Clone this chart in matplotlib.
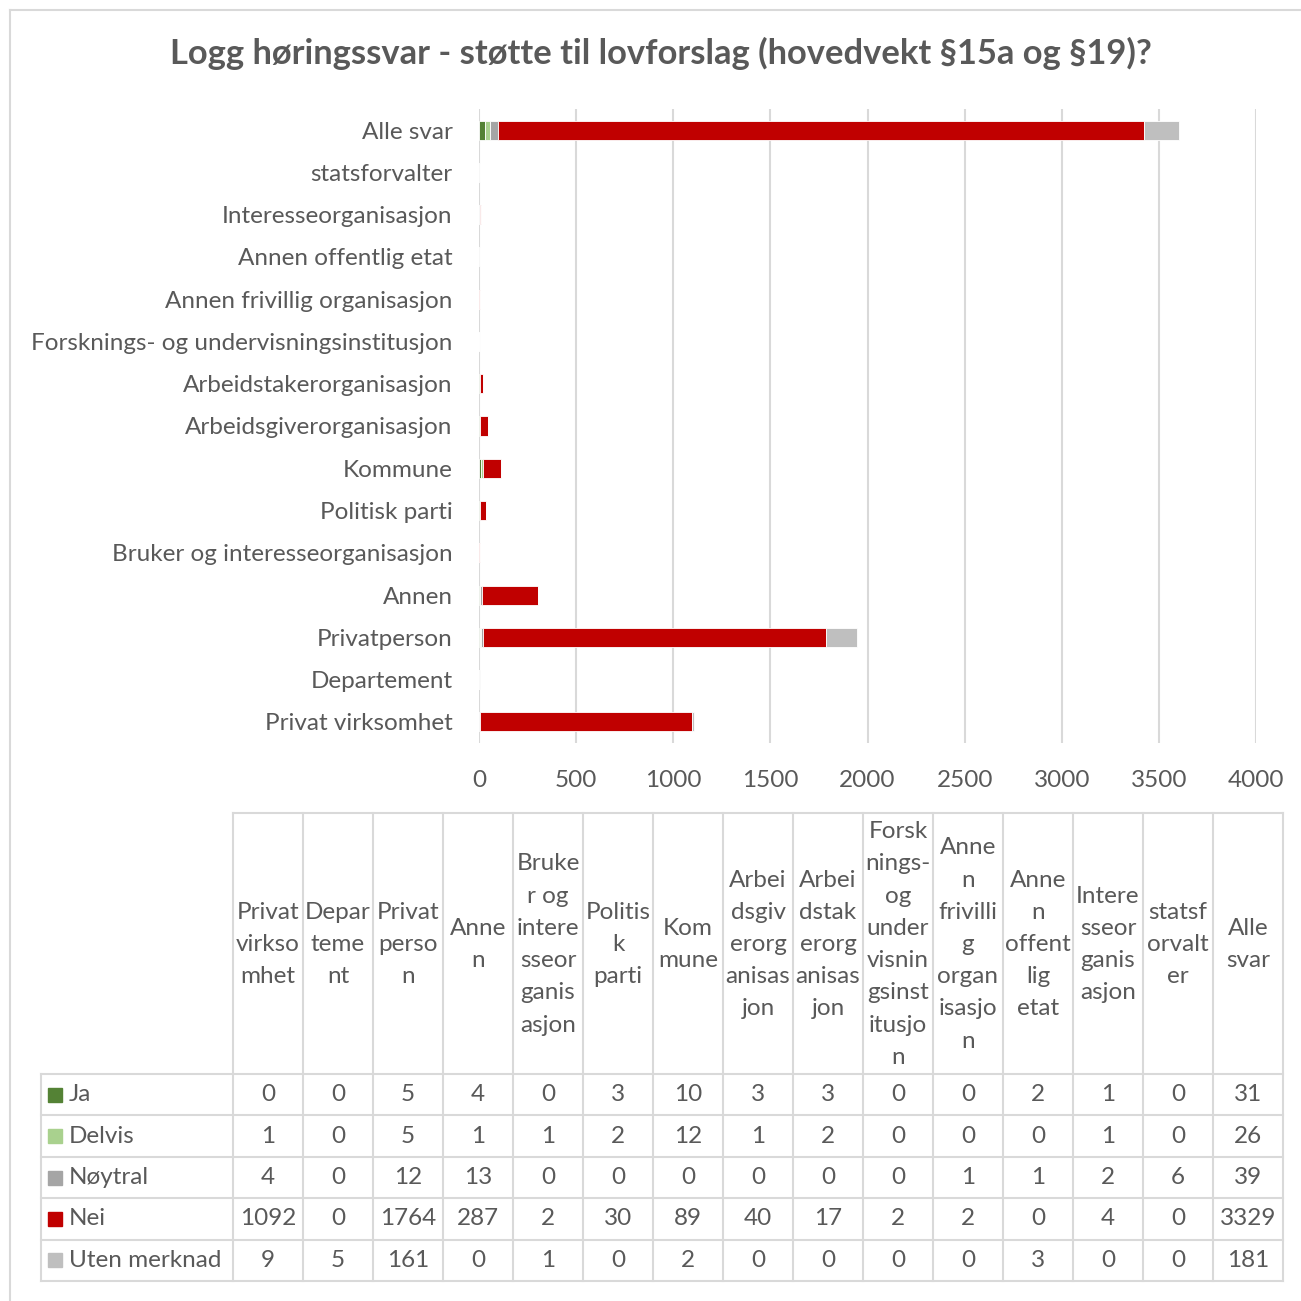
import numpy as np
import matplotlib
matplotlib.use("Agg")
import matplotlib.pyplot as plt
from matplotlib.patches import Rectangle

# categories in table order (bottom bar first)
categories = ["Privat virksomhet", "Departement", "Privatperson", "Annen",
              "Bruker og interesseorganisasjon", "Politisk parti", "Kommune",
              "Arbeidsgiverorganisasjon", "Arbeidstakerorganisasjon",
              "Forsknings- og undervisningsinstitusjon",
              "Annen frivillig organisasjon", "Annen offentlig etat",
              "Interesseorganisasjon", "statsforvalter", "Alle svar"]

# header text as wrapped in the table
headers = ["Privat\nvirkso\nmhet", "Depar\nteme\nnt", "Privat\nperso\nn", "Anne\nn",
           "Bruke\nr og\nintere\nsseor\nganis\nasjon", "Politis\nk\nparti", "Kom\nmune",
           "Arbei\ndsgiv\nerorg\nanisas\njon", "Arbei\ndstak\nerorg\nanisas\njon",
           "Forsk\nnings-\nog\nunder\nvisnin\ngsinst\nitusjo\nn",
           "Anne\nn\nfrivilli\ng\norgan\nisasjo\nn", "Anne\nn\noffent\nlig\netat",
           "Intere\nsseor\nganis\nasjon", "statsf\norvalt\ner", "Alle\nsvar"]

series_names = ["Ja", "Delvis", "Nøytral", "Nei", "Uten merknad"]
ja = [0, 0, 5, 4, 0, 3, 10, 3, 3, 0, 0, 2, 1, 0, 31]
delvis = [1, 0, 5, 1, 1, 2, 12, 1, 2, 0, 0, 0, 1, 0, 26]
noytral = [4, 0, 12, 13, 0, 0, 0, 0, 0, 0, 1, 1, 2, 6, 39]
nei = [1092, 0, 1764, 287, 2, 30, 89, 40, 17, 2, 2, 0, 4, 0, 3329]
uten = [9, 5, 161, 0, 1, 0, 2, 0, 0, 0, 0, 3, 0, 0, 181]
colors = ["#548235", "#A9D18E", "#A5A5A5", "#C00000", "#BFBFBF"]

FONT = "Lato"
TXT = "#595959"
GRID = "#D9D9D9"
FS = 17.5
W = H = 1301

plt.rcParams['font.family'] = [FONT, 'DejaVu Sans']
fig = plt.figure(figsize=(W / 100, H / 100), dpi=100)

def px(x0, y0, x1, y1):
    return [x0 / W, 1 - y1 / H, (x1 - x0) / W, (y1 - y0) / H]

# bar chart
ax = fig.add_axes(px(479, 109, 1256, 743))
y = np.arange(len(categories))
left = np.zeros(len(categories))
for name, vals, c in zip(series_names, [ja, delvis, noytral, nei, uten], colors):
    ax.barh(y, vals, left=left, height=0.45, color=c, edgecolor="white", linewidth=0.6, zorder=3)
    left += np.array(vals)
ax.set_xlim(0, 4000)
ax.set_ylim(-0.5, len(categories) - 0.5)
ax.set_xticks(np.arange(0, 4001, 500))
ax.set_yticks(y)
ax.set_yticklabels(categories)
ax.grid(axis="x", color=GRID, linewidth=1.5, zorder=0)
for s in ax.spines.values():
    s.set_visible(False)
ax.tick_params(axis="both", length=0, labelcolor=TXT, labelsize=FS)
ax.tick_params(axis="x", pad=19.5)
ax.tick_params(axis="y", pad=19)

# overlay in pixel coords for table, title, border
ov = fig.add_axes([0, 0, 1, 1], zorder=5)
ov.set_xlim(0, W)
ov.set_ylim(H, 0)
ov.axis("off")
ov.patch.set_alpha(0)

ov.plot([10, W], [10, 10], color=GRID, lw=1.5)
ov.plot([10, 10], [10, H], color=GRID, lw=1.5)

ov.text(661, 53, "Logg høringssvar - støtte til lovforslag (hovedvekt §15a og §19)?",
        ha="center", va="center", fontsize=24.8, fontweight="bold", color=TXT)

col0 = 233
cw = 70
ncol = len(categories)
xr = col0 + cw * ncol
top = 813
hdr_bot = 1074
rh = 41.4
tab_bot = hdr_bot + rh * 5
tl = 41
lw = 1.5

# horizontal lines
ov.plot([col0, xr], [top, top], color=GRID, lw=lw)
for i in range(6):
    yy = hdr_bot + rh * i
    ov.plot([tl, xr], [yy, yy], color=GRID, lw=lw)
# vertical lines
ov.plot([tl, tl], [hdr_bot, tab_bot], color=GRID, lw=lw)
for j in range(ncol + 1):
    xx = col0 + cw * j
    ov.plot([xx, xx], [top, tab_bot], color=GRID, lw=lw)

for j, h in enumerate(headers):
    ov.text(col0 + cw * (j + 0.5), (top + hdr_bot) / 2 + 1, h, ha="center", va="center",
            fontsize=FS, color=TXT, linespacing=1.66)

for i, (name, vals, c) in enumerate(zip(series_names, [ja, delvis, noytral, nei, uten], colors)):
    yc = hdr_bot + rh * (i + 0.5)
    ov.add_patch(Rectangle((48, yc - 7), 14, 14, color=c))
    ov.text(69, yc, name, ha="left", va="center", fontsize=FS, color=TXT)
    for j, v in enumerate(vals):
        ov.text(col0 + cw * (j + 0.5), yc, str(v), ha="center", va="center",
                fontsize=FS, color=TXT)

fig.savefig("out.png", dpi=100)
